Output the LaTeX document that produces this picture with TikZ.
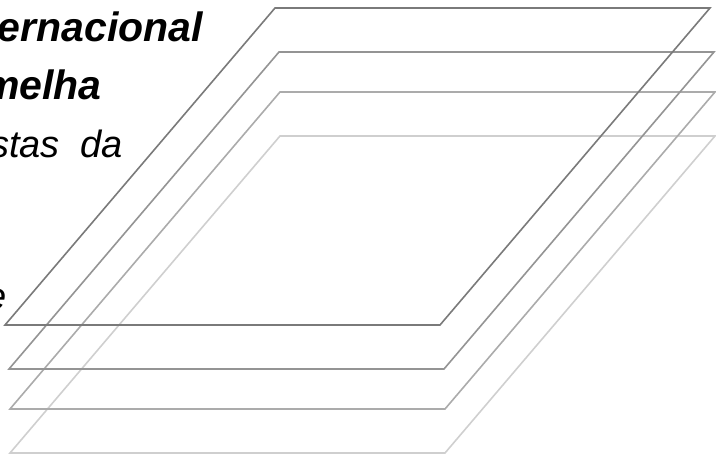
\documentclass[tikz,border=0pt]{standalone}
\usepackage{fontspec}
\setmainfont{Liberation Sans}
\definecolor{layerA}{gray}{0.48}
\definecolor{layerB}{gray}{0.58}
\definecolor{layerC}{gray}{0.67}
\definecolor{layerD}{gray}{0.81}
\tikzset{
  sheet/.style={line width=1.6pt, line join=miter},
  slidetext/.style={anchor=base east, inner sep=0pt,
    font=\fontsize{38}{46}\selectfont\itshape},
  slidetitle/.style={slidetext, font=\fontsize{41}{49}\selectfont\bfseries\itshape},
}

\begin{document}
\begin{tikzpicture}[x=1pt, y=-1pt]

  \useasboundingbox (0,0) rectangle (716,454);
  \clip (0,0) rectangle (716,454);

  % text cut off by the left edge (justified, hence the wide space)
  \node[slidetitle] (internacional) at (203,42)  {ernacional};
  \node[slidetitle] (vermelha)      at (102,100) {melha};
  \node[slidetext]  (stasda)        at (123,158) {stas\hspace{10pt} da};
  \node[slidetext]  (lastword)      at (7,310)   {e};

  % stacked sheets, lightest at the back
  \foreach \bx/\by/\col in {10/453/layerD, 10/409/layerC, 9/369/layerB, 5/325/layerA}{
    \draw[sheet, draw=\col] (\bx,\by) -- ++(435,0) -- ++(270,-317)
      -- ++(-435,0) -- cycle;
  }

\end{tikzpicture}
\end{document}
